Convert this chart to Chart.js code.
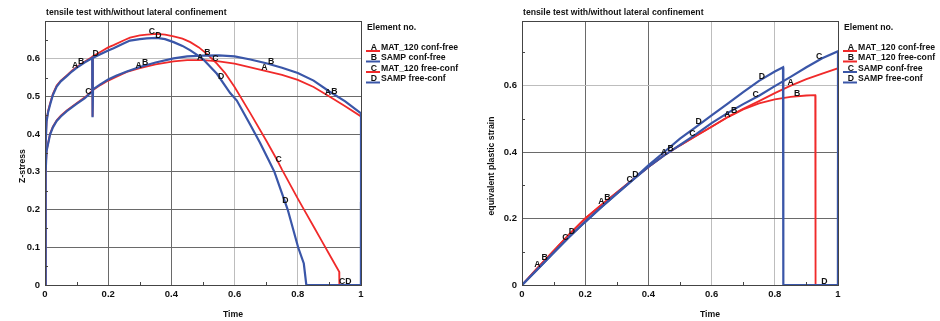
<!DOCTYPE html>
<html>
<head>
<meta charset="utf-8">
<script src="https://cdn.jsdelivr.net/npm/chart.js@4.4.1/dist/chart.umd.min.js"></script>
<style>
  body { margin: 0; background: #fff; }
  #wrap { position: relative; width: 940px; height: 321px; }
  canvas { position: absolute; top: 0; }
  #left { left: 0; }
  #right { left: 470px; }
</style>
</head>
<body>
<div id="wrap">
  <canvas id="left" width="470" height="321"></canvas>
  <canvas id="right" width="470" height="321"></canvas>
</div>
<script>
// --- data ---
const timeTicks = [0, 0.2, 0.4, 0.6, 0.8, 1];
const stressTicks = [0, 0.1, 0.2, 0.3, 0.4, 0.5, 0.6];
const strainTicks = [0, 0.2, 0.4, 0.6];

// left: Z-stress
const leftNames = ['MAT_120 conf-free', 'SAMP conf-free', 'MAT_120 free-conf', 'SAMP free-conf'];
const leftTimeA = [0, 0.001, 0.005, 0.01, 0.016, 0.025, 0.037, 0.05, 0.069, 0.085, 0.1, 0.125, 0.15, 0.1505, 0.152, 0.175, 0.2, 0.225, 0.259, 0.3, 0.35, 0.407, 0.45, 0.5, 0.55, 0.6, 0.65, 0.7, 0.75, 0.8, 0.85, 0.9, 0.95, 1.0, 1.0];
const leftStressA = [0, 0.36, 0.437, 0.462, 0.481, 0.507, 0.529, 0.542, 0.556, 0.568, 0.578, 0.592, 0.605, 0.447, 0.517, 0.53, 0.542, 0.552, 0.565, 0.575, 0.585, 0.593, 0.596, 0.596, 0.593, 0.587, 0.577, 0.567, 0.557, 0.544, 0.525, 0.5, 0.474, 0.447, 0];
const leftTimeB = [0, 0.001, 0.005, 0.01, 0.016, 0.025, 0.037, 0.05, 0.069, 0.085, 0.1, 0.125, 0.15, 0.1505, 0.152, 0.175, 0.2, 0.225, 0.259, 0.3, 0.35, 0.407, 0.45, 0.5, 0.55, 0.6, 0.65, 0.7, 0.75, 0.8, 0.85, 0.9, 0.95, 1.0, 1.0];
const leftStressB = [0, 0.35, 0.433, 0.459, 0.478, 0.504, 0.526, 0.54, 0.554, 0.566, 0.576, 0.59, 0.602, 0.445, 0.519, 0.532, 0.545, 0.555, 0.566, 0.578, 0.59, 0.601, 0.606, 0.608, 0.609, 0.606, 0.598, 0.588, 0.576, 0.562, 0.542, 0.513, 0.487, 0.455, 0];
const leftTimeC = [0, 0.002, 0.005, 0.016, 0.025, 0.037, 0.05, 0.069, 0.085, 0.1, 0.125, 0.15, 0.1505, 0.175, 0.2, 0.217, 0.25, 0.269, 0.3, 0.322, 0.354, 0.38, 0.407, 0.435, 0.46, 0.487, 0.512, 0.544, 0.57, 0.6, 0.65, 0.7, 0.734, 0.75, 0.8, 0.821, 0.85, 0.877, 0.9, 0.931, 0.9315, 1.0];
const leftStressC = [0, 0.3, 0.357, 0.401, 0.42, 0.437, 0.449, 0.463, 0.473, 0.482, 0.497, 0.515, 0.606, 0.618, 0.63, 0.636, 0.649, 0.656, 0.662, 0.664, 0.666, 0.664, 0.659, 0.653, 0.644, 0.63, 0.613, 0.587, 0.562, 0.525, 0.455, 0.383, 0.332, 0.306, 0.229, 0.198, 0.155, 0.115, 0.081, 0.035, 0, 0];
const leftTimeD = [0, 0.002, 0.005, 0.016, 0.025, 0.037, 0.05, 0.069, 0.085, 0.1, 0.125, 0.15, 0.1505, 0.175, 0.2, 0.217, 0.25, 0.269, 0.3, 0.322, 0.354, 0.38, 0.407, 0.435, 0.46, 0.48, 0.502, 0.544, 0.586, 0.607, 0.65, 0.68, 0.708, 0.726, 0.768, 0.801, 0.819, 0.827, 1.0, 1.0];
const leftStressD = [0, 0.3, 0.355, 0.399, 0.418, 0.435, 0.447, 0.461, 0.471, 0.48, 0.495, 0.513, 0.602, 0.612, 0.622, 0.628, 0.641, 0.648, 0.652, 0.654, 0.655, 0.652, 0.644, 0.634, 0.622, 0.611, 0.597, 0.56, 0.509, 0.489, 0.424, 0.378, 0.331, 0.3, 0.2, 0.1, 0.057, 0, 0, 0.22];
// times where the A/B/C/D letters sit on each curve
const leftMarkA = [0.095, 0.296, 0.491, 0.694, 0.895];
const leftMarkB = [0.114, 0.317, 0.514, 0.716, 0.916];
const leftMarkC = [0.137, 0.338, 0.539, 0.739, 0.94];
const leftMarkD = [0.16, 0.359, 0.557, 0.761, 0.96];

// right: equivalent plastic strain
const rightNames = ['MAT_120 conf-free', 'MAT_120 free-conf', 'SAMP conf-free', 'SAMP free-conf'];
const rightTimeA = [0, 0.05, 0.1, 0.15, 0.2, 0.25, 0.3, 0.35, 0.4, 0.45, 0.5, 0.55, 0.6, 0.652, 0.7, 0.75, 0.8, 0.847, 0.9, 0.95, 1.0, 1.0];
const rightStrainA = [0, 0.052, 0.103, 0.153, 0.2, 0.24, 0.278, 0.317, 0.355, 0.39, 0.42, 0.448, 0.476, 0.506, 0.53, 0.553, 0.577, 0.598, 0.619, 0.636, 0.652, 0];
const rightTimeB = [0, 0.05, 0.1, 0.15, 0.2, 0.25, 0.3, 0.35, 0.4, 0.45, 0.5, 0.55, 0.6, 0.652, 0.7, 0.75, 0.8, 0.85, 0.9, 0.928, 0.929, 1.0];
const rightStrainB = [0, 0.052, 0.103, 0.153, 0.2, 0.24, 0.278, 0.317, 0.355, 0.39, 0.42, 0.448, 0.476, 0.505, 0.528, 0.546, 0.558, 0.566, 0.57, 0.571, 0, 0];
const rightTimeC = [0, 0.05, 0.1, 0.15, 0.2, 0.25, 0.3, 0.35, 0.4, 0.45, 0.5, 0.55, 0.6, 0.65, 0.7, 0.75, 0.8, 0.85, 0.9, 0.95, 1.0, 1.0];
const rightStrainC = [0, 0.048, 0.097, 0.145, 0.19, 0.233, 0.275, 0.315, 0.355, 0.39, 0.421, 0.453, 0.487, 0.517, 0.544, 0.569, 0.598, 0.626, 0.655, 0.682, 0.703, 0];
const rightTimeD = [0, 0.05, 0.1, 0.15, 0.2, 0.25, 0.3, 0.35, 0.4, 0.45, 0.5, 0.55, 0.6, 0.65, 0.7, 0.75, 0.8, 0.826, 0.827, 1.0, 1.0];
const rightStrainD = [0, 0.048, 0.097, 0.145, 0.19, 0.233, 0.275, 0.316, 0.36, 0.4, 0.44, 0.475, 0.51, 0.545, 0.58, 0.614, 0.642, 0.655, 0, 0, 0.346];
const rightMarkA = [0.049, 0.251, 0.449, 0.65, 0.85];
const rightMarkB = [0.072, 0.27, 0.47, 0.671, 0.871];
const rightMarkC = [0.137, 0.341, 0.539, 0.739, 0.94];
const rightMarkD = [0.158, 0.359, 0.559, 0.759, 0.957];

const RED = '#f02a2a';
const BLUE = '#3a56a8';
const FONT = '"Liberation Sans", Arial, sans-serif';

function pts(ts, vs) {
  return ts.map((t, i) => ({ x: t, y: vs[i] }));
}

function valueAt(data, t) {
  for (let j = 0; j < data.length - 1; j++) {
    const a = data[j], b = data[j + 1];
    if (a.x <= t && b.x >= t && b.x > a.x) {
      return a.y + (b.y - a.y) * (t - a.x) / (b.x - a.x);
    }
  }
  return data[data.length - 1].y;
}

function makeOverlay(cfg) {
  return {
    id: 'overlay',
    afterDraw(chart) {
      const ctx = chart.ctx;
      const area = chart.chartArea;
      const xs = chart.scales.x, ys = chart.scales.y;
      ctx.save();

      // frame
      ctx.strokeStyle = '#444';
      ctx.lineWidth = 1;
      ctx.strokeRect(Math.round(area.left) + 0.5, Math.round(area.top) + 0.5,
        Math.round(area.right - area.left), Math.round(area.bottom - area.top));

      // small inner ticks
      ctx.beginPath();
      cfg.minorY.forEach(v => {
        const y = Math.round(ys.getPixelForValue(v)) + 0.5;
        ctx.moveTo(area.left, y); ctx.lineTo(area.left + 3, y);
      });
      cfg.minorX.forEach(v => {
        const x = Math.round(xs.getPixelForValue(v)) + 0.5;
        ctx.moveTo(x, area.bottom); ctx.lineTo(x, area.bottom - 3);
      });
      ctx.stroke();

      // letters on the curves
      ctx.fillStyle = '#111';
      ctx.font = 'bold 8.7px ' + FONT;
      ctx.textAlign = 'center';
      ctx.textBaseline = 'middle';
      chart.data.datasets.forEach((ds, i) => {
        cfg.marks[i].forEach(t => {
          const v = valueAt(ds.data, t);
          ctx.fillText(cfg.letters[i], xs.getPixelForValue(t), ys.getPixelForValue(v) - 3);
        });
      });

      // title
      ctx.textAlign = 'left';
      ctx.fillText(cfg.title, area.left + 1, 12.5);

      // legend
      const lx = area.right;
      ctx.fillText('Element no.', lx + 6, 27.5);
      chart.data.datasets.forEach((ds, i) => {
        const y = 47.5 + i * 10.5;
        ctx.strokeStyle = ds.borderColor;
        ctx.lineWidth = 2;
        ctx.beginPath();
        ctx.moveTo(lx + 5, y + 3.5); ctx.lineTo(lx + 19, y + 3.5);
        ctx.stroke();
        ctx.textAlign = 'center';
        ctx.fillText(cfg.letters[i], lx + 13, y);
        ctx.textAlign = 'left';
        ctx.fillText(ds.label, lx + 20, y);
      });

      // axis titles
      ctx.textAlign = 'center';
      ctx.fillText('Time', (area.left + area.right) / 2 + 30, 315);
      ctx.save();
      ctx.translate(cfg.yTitleX, 166);
      ctx.rotate(-Math.PI / 2);
      ctx.fillText(cfg.yTitle, 0, 0);
      ctx.restore();

      ctx.restore();
    }
  };
}

function gridColor(light) {
  return ctx => {
    const v = ctx.tick ? ctx.tick.value : 0;
    if (v === 0 || v === 1) return 'rgba(0,0,0,0)';
    return light.includes(v) ? '#bdbdbd' : '#6a6a6a';
  };
}

function buildChart(id, series, names, yTicks, yMax, yWidth, padRight, overlayCfg) {
  return new Chart(document.getElementById(id), {
    type: 'line',
    data: {
      datasets: series.map((s, i) => ({
        label: names[i],
        data: pts(s[0], s[1]),
        borderColor: s[2],
        borderWidth: s[2] === BLUE ? 2.2 : 1.8,
        pointRadius: 0,
        tension: 0,
        fill: false,
        order: s[2] === BLUE ? 0 : 1
      }))
    },
    options: {
      responsive: false,
      animation: false,
      devicePixelRatio: 1,
      layout: { padding: { left: 0, top: 21, right: padRight, bottom: 0 } },
      plugins: { legend: { display: false }, tooltip: { enabled: false } },
      scales: {
        x: {
          type: 'linear', min: 0, max: 1,
          afterBuildTicks: sc => { sc.ticks = timeTicks.map(v => ({ value: v })); },
          afterFit: sc => { sc.height = 36; },
          grid: { color: gridColor([0.6, 0.8]), drawTicks: false },
          border: { display: false },
          ticks: { padding: 4, color: '#111', font: { family: FONT, size: 9.5, weight: 'bold' }, callback: v => String(v), maxRotation: 0 }
        },
        y: {
          type: 'linear', min: 0, max: yMax,
          afterBuildTicks: sc => { sc.ticks = yTicks.map(v => ({ value: v })); },
          afterFit: sc => { sc.width = yWidth; },
          grid: { color: gridColor([0.6]), drawTicks: false },
          border: { display: false },
          ticks: { padding: 5, color: '#111', font: { family: FONT, size: 9.5, weight: 'bold' }, callback: v => String(v) }
        }
      }
    },
    plugins: [makeOverlay(overlayCfg)]
  });
}

buildChart('left',
  [[leftTimeA, leftStressA, RED], [leftTimeB, leftStressB, BLUE], [leftTimeC, leftStressC, RED], [leftTimeD, leftStressD, BLUE]],
  leftNames, stressTicks, 0.7, 45, 109,
  {
    title: 'tensile test with/without lateral confinement',
    yTitle: 'Z-stress', yTitleX: 22.5,
    letters: ['A', 'B', 'C', 'D'],
    marks: [leftMarkA, leftMarkB, leftMarkC, leftMarkD],
    minorY: [0.05, 0.15, 0.25, 0.35, 0.45, 0.55, 0.65],
    minorX: [0.1, 0.3, 0.5, 0.7, 0.9]
  });

buildChart('right',
  [[rightTimeA, rightStrainA, RED], [rightTimeB, rightStrainB, RED], [rightTimeC, rightStrainC, BLUE], [rightTimeD, rightStrainD, BLUE]],
  rightNames, strainTicks, 0.794, 52, 102,
  {
    title: 'tensile test with/without lateral confinement',
    yTitle: 'equivalent plastic strain', yTitleX: 21.5,
    letters: ['A', 'B', 'C', 'D'],
    marks: [rightMarkA, rightMarkB, rightMarkC, rightMarkD],
    minorY: [0.1, 0.3, 0.5, 0.7],
    minorX: [0.1, 0.3, 0.5, 0.7, 0.9]
  });
</script>
</body>
</html>
